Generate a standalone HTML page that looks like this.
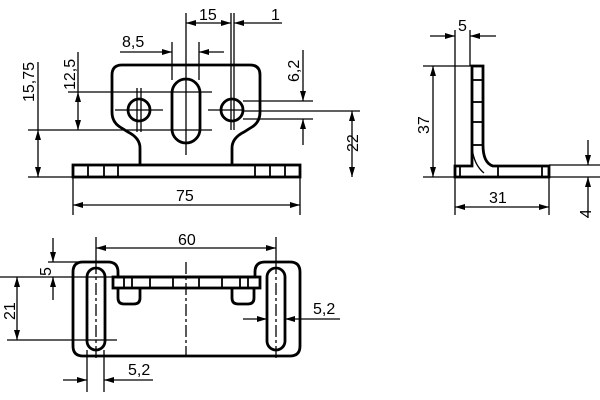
<!DOCTYPE html>
<html><head><style>
html,body{margin:0;padding:0;background:#fff}
svg{display:block}
text{font-family:"Liberation Sans",sans-serif;font-size:16px;fill:#000}
</style></head><body>
<svg width="600" height="400" viewBox="0 0 600 400" xmlns="http://www.w3.org/2000/svg">
<defs>
<marker id="a" viewBox="0 0 10 6" refX="10" refY="3" markerWidth="11" markerHeight="6" markerUnits="userSpaceOnUse" orient="auto-start-reverse"><path d="M0,0L10,3L0,6z" fill="#000"/></marker>
</defs>
<g stroke="#000" stroke-width="1.3" fill="none">
<line x1="186" y1="13" x2="186" y2="155"/>
<line x1="172" y1="42" x2="172" y2="80"/>
<line x1="199" y1="42" x2="199" y2="80"/>
<line x1="231" y1="13" x2="231" y2="130"/>
<line x1="234" y1="13" x2="234" y2="130"/>
<line x1="137" y1="88" x2="137" y2="132"/>
<line x1="141" y1="88" x2="141" y2="132"/>
<line x1="115" y1="110" x2="163" y2="110"/>
<line x1="208" y1="110" x2="243" y2="110"/>
<line x1="68" y1="92" x2="212" y2="92"/>
<line x1="28" y1="130" x2="212" y2="130"/>
<line x1="28" y1="177" x2="300" y2="177"/>
<line x1="243" y1="101" x2="313" y2="101"/>
<line x1="243" y1="119" x2="313" y2="119"/>
<line x1="243" y1="111" x2="360" y2="111"/>
<line x1="73" y1="177" x2="73" y2="215"/>
<line x1="300" y1="177" x2="300" y2="215"/>
<line x1="186" y1="23" x2="231" y2="23" marker-start="url(#a)" marker-end="url(#a)"/>
<line x1="282" y1="23" x2="234" y2="23" marker-end="url(#a)"/>
<line x1="120" y1="52" x2="172" y2="52" marker-end="url(#a)"/>
<line x1="224" y1="52" x2="199" y2="52" marker-end="url(#a)"/>
<line x1="78" y1="52" x2="78" y2="92"/>
<line x1="78" y1="92" x2="78" y2="130" marker-start="url(#a)" marker-end="url(#a)"/>
<line x1="38" y1="62" x2="38" y2="130"/>
<line x1="38" y1="130" x2="38" y2="177" marker-start="url(#a)" marker-end="url(#a)"/>
<line x1="352" y1="111" x2="352" y2="177" marker-start="url(#a)" marker-end="url(#a)"/>
<line x1="303" y1="50" x2="303" y2="101" marker-end="url(#a)"/>
<line x1="303" y1="145" x2="303" y2="119" marker-end="url(#a)"/>
<line x1="73" y1="205" x2="300" y2="205" marker-start="url(#a)" marker-end="url(#a)"/>
</g>
<g stroke="#000" stroke-width="2.8" fill="none">
<rect x="73" y="165" width="227" height="12"/>
<path d="M140,165 V148 Q140,138 128,132 L120,127 Q112,122 112,112 V75 Q112,65 122,65 H250 Q260,65 260,75 V112 Q260,122 252,127 L244,132 Q232,138 232,148 V165"/>
<circle cx="139" cy="110" r="11"/>
<circle cx="232" cy="110" r="11"/>
<rect x="172" y="79" width="28" height="64" rx="14"/>
</g>
<g stroke="#000" stroke-width="1.8">
<line x1="88" y1="165" x2="88" y2="177"/><line x1="104" y1="165" x2="104" y2="177"/><line x1="118" y1="165" x2="118" y2="177"/>
<line x1="255" y1="165" x2="255" y2="177"/><line x1="270" y1="165" x2="270" y2="177"/><line x1="285" y1="165" x2="285" y2="177"/>
</g>
<text x="199" y="20">15</text>
<text x="271" y="20">1</text>
<text x="122" y="47">8,5</text>
<text x="176" y="201">75</text>
<text transform="translate(75,90) rotate(-90)">12,5</text>
<text transform="translate(34,102) rotate(-90)">15,75</text>
<text transform="translate(358,152) rotate(-90)">22</text>
<text transform="translate(299,82) rotate(-90)">6,2</text>

<g stroke="#000" stroke-width="1.3" fill="none">
<line x1="455" y1="30" x2="455" y2="215"/>
<line x1="470" y1="30" x2="470" y2="66"/>
<line x1="423" y1="66" x2="483" y2="66"/>
<line x1="423" y1="177" x2="600" y2="177"/>
<line x1="549" y1="165" x2="600" y2="165"/>
<line x1="549" y1="177" x2="549" y2="215"/>
<line x1="430" y1="36" x2="455" y2="36" marker-end="url(#a)"/>
<line x1="496" y1="36" x2="470" y2="36" marker-end="url(#a)"/>
<line x1="433" y1="66" x2="433" y2="177" marker-start="url(#a)" marker-end="url(#a)"/>
<line x1="455" y1="207" x2="549" y2="207" marker-start="url(#a)" marker-end="url(#a)"/>
<line x1="588" y1="140" x2="588" y2="165" marker-end="url(#a)"/>
<line x1="588" y1="218" x2="588" y2="177" marker-end="url(#a)"/>
<path d="M472,148 Q474,165 484,173"/>
</g>
<g stroke="#000" stroke-width="2.8" fill="none">
<path d="M472,66 H483 V145 Q483,163 493,166 H549 V177 H455 V166 H472 Z"/>
</g>
<g stroke="#000" stroke-width="1.8">
<line x1="472" y1="80" x2="483" y2="80"/><line x1="472" y1="102" x2="483" y2="102"/><line x1="472" y1="122" x2="483" y2="122"/><line x1="472" y1="145" x2="483" y2="145"/>
<line x1="460" y1="166" x2="460" y2="177"/><line x1="498" y1="166" x2="498" y2="177"/><line x1="542" y1="166" x2="542" y2="177"/>
</g>
<text x="458" y="31">5</text>
<text x="489" y="203">31</text>
<text transform="translate(429,134) rotate(-90)">37</text>
<text transform="translate(591,218) rotate(-90)">4</text>

<g stroke="#000" stroke-width="1.3" fill="none">
<line x1="96" y1="237" x2="96" y2="262"/>
<line x1="276" y1="237" x2="276" y2="262"/>
<line x1="96" y1="248" x2="276" y2="248" marker-start="url(#a)" marker-end="url(#a)"/>
<line x1="48" y1="262" x2="90" y2="262"/>
<line x1="0" y1="277" x2="113" y2="277"/>
<line x1="7" y1="340" x2="117" y2="340"/>
<line x1="53" y1="238" x2="53" y2="262" marker-end="url(#a)"/>
<line x1="53" y1="300" x2="53" y2="277" marker-end="url(#a)"/>
<line x1="17" y1="277" x2="17" y2="340" marker-start="url(#a)" marker-end="url(#a)"/>
<line x1="243" y1="319" x2="267" y2="319" marker-end="url(#a)"/>
<line x1="340" y1="319" x2="285" y2="319" marker-end="url(#a)"/>
<line x1="87" y1="350" x2="87" y2="392"/>
<line x1="104" y1="350" x2="104" y2="392"/>
<line x1="63" y1="380" x2="87" y2="380" marker-end="url(#a)"/>
<line x1="153" y1="380" x2="104" y2="380" marker-end="url(#a)"/>
<line x1="96" y1="262" x2="96" y2="360" stroke-dasharray="12,3,3,3"/>
<line x1="276" y1="262" x2="276" y2="360" stroke-dasharray="12,3,3,3"/>
<line x1="186" y1="262" x2="186" y2="357" stroke-dasharray="12,3,3,3"/>
</g>
<g stroke="#000" stroke-width="2.8" fill="none">
<path d="M83,262 H108 Q118,262 118,272 V277 H255 V272 Q255,262 265,262 H290 Q300,262 300,272 V346 Q300,356 290,356 H83 Q73,356 73,346 V272 Q73,262 83,262 Z"/>
<rect x="113" y="277" width="147" height="11"/>
<path d="M118,288 V298 Q118,304 124,304 H134 Q140,304 140,298 V288"/>
<path d="M232,288 V298 Q232,304 238,304 H248 Q254,304 254,298 V288"/>
<rect x="87" y="268" width="18" height="82" rx="9"/>
<rect x="267" y="268" width="18" height="82" rx="9"/>
</g>
<g stroke="#000" stroke-width="1.8">
<line x1="124" y1="277" x2="124" y2="288"/><line x1="132" y1="277" x2="132" y2="288"/><line x1="150" y1="277" x2="150" y2="288"/><line x1="173" y1="277" x2="173" y2="288"/><line x1="199" y1="277" x2="199" y2="288"/><line x1="222" y1="277" x2="222" y2="288"/><line x1="240" y1="277" x2="240" y2="288"/><line x1="248" y1="277" x2="248" y2="288"/>
</g>
<text x="178" y="245">60</text>
<text x="313" y="314">5,2</text>
<text x="128" y="375">5,2</text>
<text transform="translate(51,276) rotate(-90)">5</text>
<text transform="translate(15,320) rotate(-90)">21</text>
</svg>
</body></html>
